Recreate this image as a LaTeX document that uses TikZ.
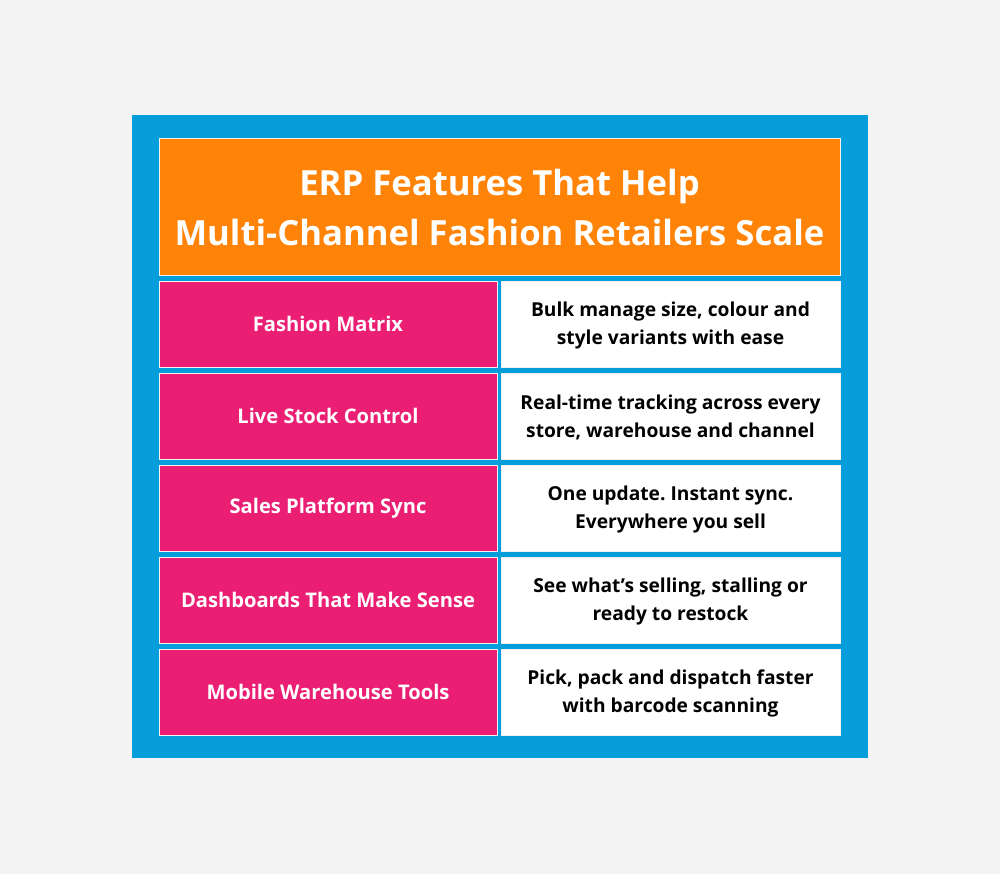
\documentclass[tikz,border=0pt]{standalone}
\usepackage{fontspec}
\setmainfont{Open Sans}[BoldFont={Open Sans Bold}]
\frenchspacing
\definecolor{bgc}{HTML}{F4F4F4}
\definecolor{bluec}{HTML}{069DDB}
\definecolor{orangec}{HTML}{FF8307}
\definecolor{pinkc}{HTML}{EA1F74}
\definecolor{edgec}{HTML}{F2F2F2}
\tikzset{
  cell/.style={draw=edgec, line width=0.7pt, inner sep=0pt, align=center, font=\bfseries},
  titlebox/.style={cell, fill=orangec, text=white, minimum width=681*0.75pt, minimum height=137*0.75pt, font=\bfseries\fontsize{26}{38}\selectfont},
  featbox/.style={cell, fill=pinkc, text=white, minimum width=338*0.75pt, minimum height=86*0.75pt, font=\bfseries\fontsize{15.1}{19}\selectfont},
  descbox/.style={cell, fill=white, text=black, minimum width=339*0.75pt, minimum height=86*0.75pt, font=\bfseries\fontsize{14.4}{21.6}\selectfont},
}
\begin{document}
\begin{tikzpicture}[x=0.75pt,y=-0.75pt]
\fill[bgc] (0,0) rectangle (1000,874);
\useasboundingbox (0,0) rectangle (1000,874);
\fill[bluec] (131.5,115) rectangle (868,757.5);
\node[titlebox] (title) at (499.5,206.5) {};
\node[text=white, font=\bfseries\fontsize{26}{38}\selectfont, align=center, inner sep=0pt] (titletext) at (499.5,207.5) {ERP Features That Help\\Multi-Channel Fashion Retailers Scale};
\foreach \i/\a/\b in {
  1/{Fashion Matrix}/{Bulk manage size, colour and\\style variants with ease},
  2/{Live Stock Control}/{Real-time tracking across every\\store, warehouse and channel},
  3/{Sales Platform Sync}/{One update. Instant sync.\\Everywhere you sell},
  4/{Dashboards That Make Sense}/{See what’s selling, stalling or\\ready to restock},
  5/{Mobile Warehouse Tools}/{Pick, pack and dispatch faster\\with barcode scanning}}{
  \node[featbox] (l\i) at (328,{324+92*(\i-1)}) {\a};
  \node[descbox] (r\i) at (670.5,{324+92*(\i-1)}) {};
  \node[font=\bfseries\fontsize{14.4}{21.6}\selectfont, align=center, inner sep=0pt] (t\i) at (670.5,{325.5+92*(\i-1)}) {\b};
}
\end{tikzpicture}
\end{document}
